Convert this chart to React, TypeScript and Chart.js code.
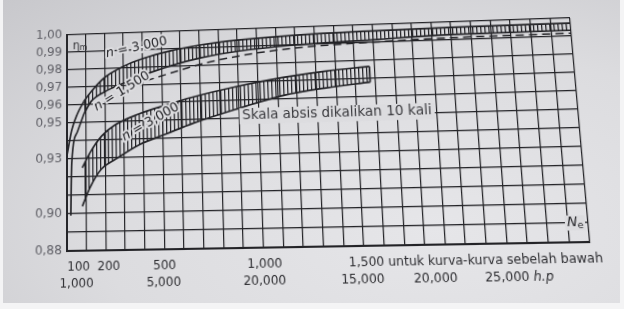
import React, { useEffect, useRef } from 'react';
import { Chart, registerables } from 'chart.js';

Chart.register(...registerables);

// ---------- axis ticks ----------
const yTickValues = [0.88, 0.9, 0.93, 0.95, 0.96, 0.97, 0.98, 0.99, 1.0];
const xTopLabels = ['100', '200', '500', '1,000', '1,500'];
const xTopAt = [60, 215, 500, 1005, 1510];
const xTopNote = 'untuk kurva-kurva sebelah bawah';
const xBottomLabels = ['1,000', '5,000', '20,000', '15,000', '20,000', '25,000'];
const xBottomAt = [49, 494, 1002, 1488, 1844, 2190];
const xBottomUnit = 'h.p';

// ---------- upper band  n = 3,000 (normal abscissa) ----------
const upperBandN = [90, 130, 200, 300, 400, 550, 710, 900, 1200, 1600, 2000, 2600];
const upperBandTop = [0.962, 0.9675, 0.975, 0.981, 0.985, 0.989, 0.9918, 0.9938, 0.9955, 0.9965, 0.997, 0.9972];
const upperBandBottom = [0.955, 0.962, 0.967, 0.9715, 0.9755, 0.9805, 0.9845, 0.9875, 0.99, 0.9915, 0.993, 0.9932];
const upperTopTailN = [0, 25, 55, 90];
const upperTopTail = [0.932, 0.946, 0.955, 0.962];
const upperBottomTailN = [20, 22, 25, 55, 90];
const upperBottomTail = [0.899, 0.915, 0.928, 0.945, 0.955];

// ---------- dashed curve  n = 1,500 ----------
const dashN = [420, 620, 710, 930, 1190, 1550, 1980, 2600];
const dashEta = [0.9725, 0.9785, 0.981, 0.9852, 0.9882, 0.99, 0.9912, 0.9915];

// ---------- lower band  n = 3,000 (abscissa x10) ----------
const lowerBandN = [80, 120, 180, 250, 380, 520, 660, 880, 1130, 1350, 1575];
const lowerBandTop = [0.925, 0.933, 0.942, 0.948, 0.954, 0.9585, 0.9625, 0.9675, 0.972, 0.9748, 0.9767];
const lowerBandBottom = [0.904, 0.914, 0.924, 0.929, 0.937, 0.9425, 0.948, 0.955, 0.962, 0.9655, 0.968];

// ---------- annotations ----------
const curveLabelValues = ['3,000', '1,500', '3,000'];
const curveLabelN = [370, 290, 438];
const curveLabelEta = [0.9915, 0.9669, 0.9493];
const curveLabelAngle = [-10, -30, -28];
const noteText = 'Skala absis dikalikan 10 kali';
const noteN = 915;
const noteEta = 0.9512;

const INK = '#232327';
const PAPER = '#dcdcdf';

function solveHomography(src: number[][], dst: number[][]) {
  const A: number[][] = [];
  const b: number[] = [];
  for (let i = 0; i < 4; i++) {
    const [x, y] = src[i];
    const [X, Y] = dst[i];
    A.push([x, y, 1, 0, 0, 0, -x * X, -y * X]);
    b.push(X);
    A.push([0, 0, 0, x, y, 1, -x * Y, -y * Y]);
    b.push(Y);
  }
  const n = 8;
  for (let c = 0; c < n; c++) {
    let p = c;
    for (let r = c + 1; r < n; r++) if (Math.abs(A[r][c]) > Math.abs(A[p][c])) p = r;
    [A[c], A[p]] = [A[p], A[c]];
    [b[c], b[p]] = [b[p], b[c]];
    for (let r = 0; r < n; r++) {
      if (r === c) continue;
      const f = A[r][c] / A[c][c];
      for (let k = c; k < n; k++) A[r][k] -= f * A[c][k];
      b[r] -= f * b[c];
    }
  }
  return b.map((v, i) => v / A[i][i]);
}

const textPlugin = {
  id: 'bookTexts',
  afterDatasetsDraw(chart: any) {
    const { ctx, scales, chartArea } = chart;
    const xs = scales.x;
    const ys = scales.y;
    ctx.save();
    ctx.textBaseline = 'middle';

    // curve labels "n = ..."
    curveLabelValues.forEach((val, i) => {
      const px = xs.getPixelForValue(curveLabelN[i]);
      const py = ys.getPixelForValue(curveLabelEta[i]);
      ctx.save();
      ctx.translate(px, py);
      ctx.rotate((curveLabelAngle[i] * Math.PI) / 180);
      const fi = 'italic 13px "DejaVu Sans"';
      const fn = '13px "DejaVu Sans"';
      ctx.font = fi;
      const w1 = ctx.measureText('n').width;
      ctx.font = fn;
      const rest = ' = ' + val;
      const w2 = ctx.measureText(rest).width;
      const x0 = -(w1 + w2) / 2;
      ctx.lineJoin = 'round';
      ctx.strokeStyle = PAPER;
      ctx.lineWidth = 4;
      ctx.font = fi;
      ctx.strokeText('n', x0, 0);
      ctx.font = fn;
      ctx.strokeText(rest, x0 + w1, 0);
      ctx.fillStyle = INK;
      ctx.font = fi;
      ctx.fillText('n', x0, 0);
      ctx.font = fn;
      ctx.fillText(rest, x0 + w1, 0);
      ctx.restore();
    });

    // note, printed on a clear strip
    ctx.font = '13.5px "DejaVu Sans"';
    ctx.textAlign = 'left';
    const nx = xs.getPixelForValue(noteN);
    const ny = ys.getPixelForValue(noteEta);
    const ntw = ctx.measureText(noteText).width;
    ctx.fillStyle = PAPER;
    ctx.fillRect(nx - 3, ny - 8, ntw + 6, 16);
    ctx.fillStyle = '#3a3a3e';
    ctx.fillText(noteText, nx, ny);

    // eta_m
    const ex = chartArea.left + 6;
    const ey = chartArea.top + 12;
    ctx.font = '12px "DejaVu Sans"';
    ctx.fillStyle = '#333337';
    ctx.fillText('η', ex, ey);
    const ew = ctx.measureText('η').width;
    ctx.font = '8px "DejaVu Sans"';
    ctx.fillText('m', ex + ew, ey + 2);

    // N_e near right end of 0.89 line
    const Nx = chartArea.right - 20;
    const Ny = ys.getPixelForValue(0.89);
    ctx.fillStyle = PAPER;
    ctx.fillRect(Nx - 2, Ny - 7, 19, 14);
    ctx.fillStyle = INK;
    ctx.font = 'italic 13px "DejaVu Sans"';
    ctx.fillText('N', Nx, Ny);
    const nw = ctx.measureText('N').width;
    ctx.font = '9px "DejaVu Sans"';
    ctx.fillText('e', Nx + nw, Ny + 3);

    // x labels
    const row1 = chartArea.bottom + 16;
    const row2 = chartArea.bottom + 32;
    ctx.fillStyle = '#2e2e32';
    ctx.font = '12px "DejaVu Sans"';
    ctx.textAlign = 'center';
    xTopLabels.forEach((t, i) => ctx.fillText(t, xs.getPixelForValue(xTopAt[i]), row1));
    const lastTop = xTopLabels[xTopLabels.length - 1];
    const lastX = xs.getPixelForValue(xTopAt[xTopAt.length - 1]) + ctx.measureText(lastTop).width / 2;
    ctx.textAlign = 'left';
    ctx.fillText(' ' + xTopNote, lastX, row1);
    ctx.textAlign = 'center';
    xBottomLabels.forEach((t, i) => ctx.fillText(t, xs.getPixelForValue(xBottomAt[i]), row2));
    const lastB = xBottomLabels[xBottomLabels.length - 1];
    const lbx = xs.getPixelForValue(xBottomAt[xBottomAt.length - 1]) + ctx.measureText(lastB).width / 2;
    ctx.textAlign = 'left';
    ctx.font = 'italic 12px "DejaVu Sans"';
    ctx.fillText(' ' + xBottomUnit, lbx, row2);
    ctx.restore();
  },
};

export default function App() {
  const ref = useRef<HTMLCanvasElement>(null);

  useEffect(() => {
    const canvas = ref.current!;
    const ctx = canvas.getContext('2d')!;

    const pc = document.createElement('canvas');
    pc.width = 4;
    pc.height = 4;
    const pctx = pc.getContext('2d')!;
    pctx.fillStyle = INK;
    pctx.fillRect(1, 0, 1.25, 4);
    const hatch = ctx.createPattern(pc, 'repeat')!;

    const pts = (xv: number[], yv: number[]) => xv.map((x, i) => ({ x, y: yv[i] }));
    const base: any = {
      borderColor: INK,
      borderWidth: 1.7,
      pointRadius: 0,
      cubicInterpolationMode: 'monotone',
      fill: false,
    };
    const lastI = lowerBandN.length - 1;

    const chart = new Chart(canvas, {
      type: 'line',
      data: {
        datasets: [
          { ...base, label: 'upper band lower edge', data: pts(upperBandN, upperBandBottom) },
          { ...base, label: 'upper band upper edge', data: pts(upperBandN, upperBandTop), fill: '-1', backgroundColor: hatch },
          { ...base, label: 'upper edge start', data: pts(upperTopTailN, upperTopTail) },
          { ...base, label: 'lower edge start', data: pts(upperBottomTailN, upperBottomTail) },
          { ...base, label: 'n = 1,500', data: pts(dashN, dashEta), borderDash: [8, 5], borderWidth: 1.5 },
          { ...base, label: 'lower band lower edge', data: pts(lowerBandN, lowerBandBottom) },
          { ...base, label: 'lower band upper edge', data: pts(lowerBandN, lowerBandTop), fill: '-1', backgroundColor: hatch },
          {
            ...base,
            label: 'lower band end',
            data: [
              { x: lowerBandN[lastI], y: lowerBandBottom[lastI] },
              { x: lowerBandN[lastI], y: lowerBandTop[lastI] },
            ],
          },
        ],
      },
      options: {
        animation: false,
        responsive: false,
        events: [],
        layout: { padding: { top: 35, right: 46, left: 0, bottom: 0 } },
        plugins: { legend: { display: false }, tooltip: { enabled: false } },
        scales: {
          x: {
            type: 'linear',
            min: 0,
            max: 2600,
            ticks: { stepSize: 100, display: false },
            grid: { color: INK, lineWidth: 1.2, drawTicks: false },
            border: { color: INK, width: 2 },
            afterFit: (s: any) => {
              s.height = 58;
            },
          },
          y: {
            type: 'linear',
            min: 0.88,
            max: 1.0,
            ticks: {
              stepSize: 0.01,
              padding: 5,
              color: '#606067',
              font: { family: 'DejaVu Sans', size: 12.5 },
              callback: (v: any) =>
                yTickValues.some((t) => Math.abs(t - Number(v)) < 1e-6)
                  ? Number(v).toFixed(2).replace('.', ',')
                  : '',
            },
            grid: { color: INK, lineWidth: 1.2, drawTicks: false },
            border: { color: INK, width: 2 },
            afterFit: (s: any) => {
              s.width = 67;
            },
          },
        },
      },
      plugins: [textPlugin],
    });

    // photographed page: slight keystone of the printed grid
    const flat = [
      [67, 35],
      [578, 35],
      [578, 251],
      [67, 251],
    ];
    const photo = [
      [67, 35],
      [570, 18],
      [590, 242],
      [67, 251],
    ];
    const h = solveHomography(flat, photo);
    canvas.style.transformOrigin = '0 0';
    canvas.style.transform = `matrix3d(${h[0]},${h[3]},0,${h[6]},${h[1]},${h[4]},0,${h[7]},0,0,1,0,${h[2]},${h[5]},0,1)`;

    return () => chart.destroy();
  }, []);

  return (
    <div style={{ position: 'fixed', left: 0, top: 0, width: 624, height: 309, background: '#f4f4f5', overflow: 'hidden' }}>
      <div
        style={{
          position: 'absolute',
          left: 3,
          top: 0,
          width: 617,
          height: 303,
          background: 'radial-gradient(ellipse at 70% 75%, #e6e6e9 0%, #dcdcdf 55%, #c8c8cc 100%)',
        }}
      />
      <canvas ref={ref} width={624} height={309} style={{ position: 'absolute', left: 0, top: 0 }} />
    </div>
  );
}
